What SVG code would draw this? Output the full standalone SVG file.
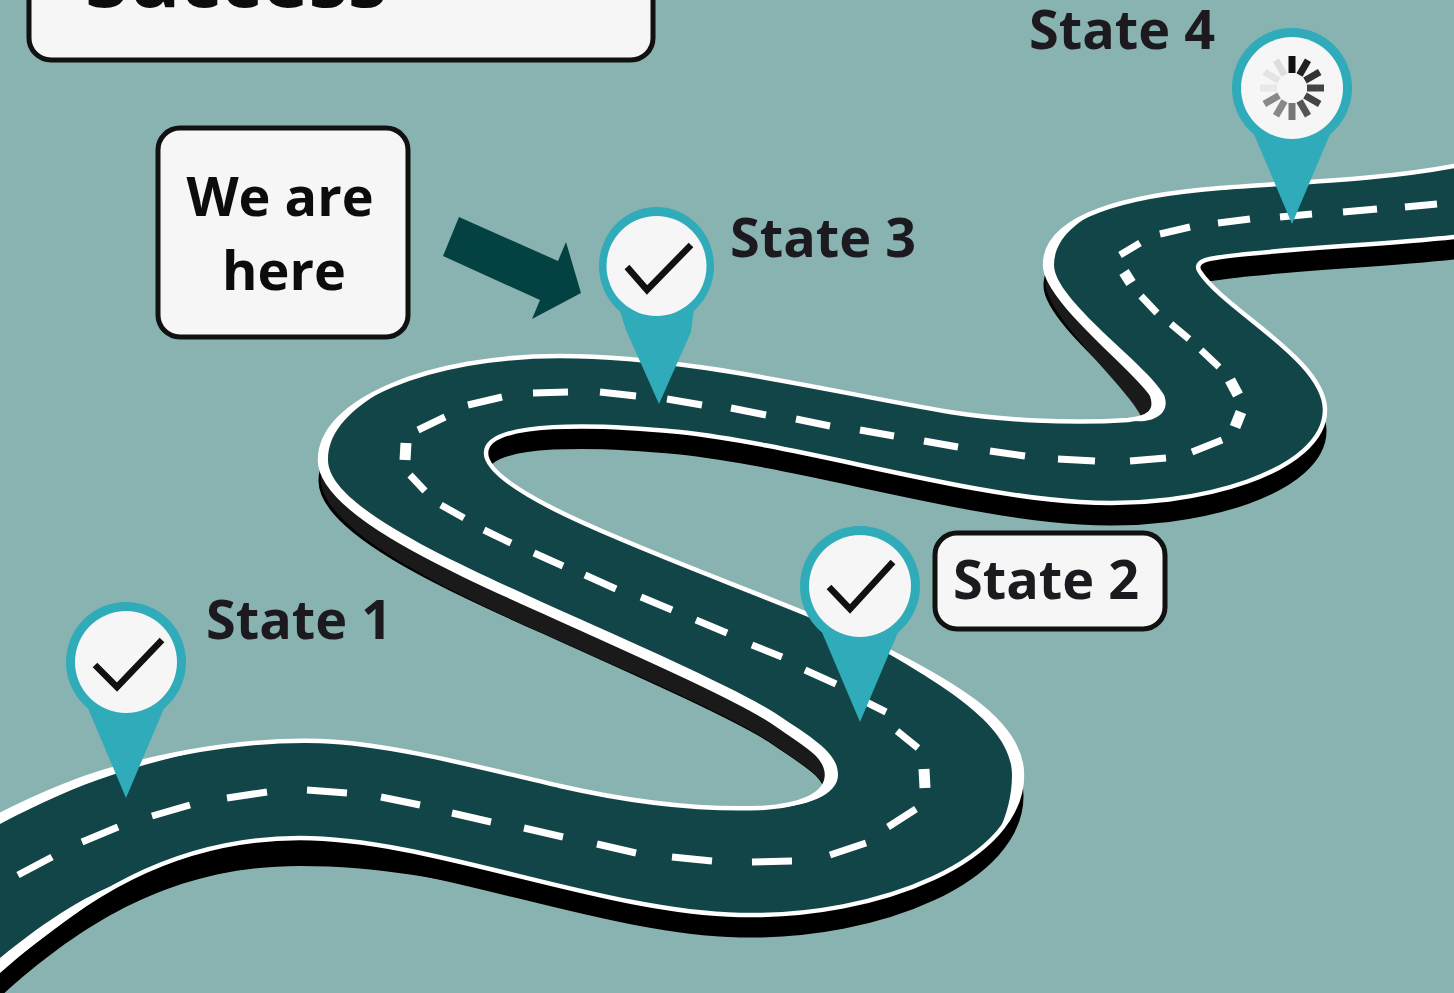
<svg xmlns="http://www.w3.org/2000/svg" width="1454" height="993" viewBox="0 0 1454 993">
<style>
.lbl{font-family:"Open Sans","Noto Sans","Liberation Sans",sans-serif;font-weight:700;font-size:54px;fill:#1c1a1f}
.box{fill:#f6f6f6;stroke:#111;stroke-width:5}
.pin{fill:#2fabb9}
.face{fill:#f6f6f6}
.chk{fill:none;stroke:#111;stroke-width:6.5}
.dash{fill:none;stroke:#fff;stroke-width:7}
.dash2{fill:none;stroke:#fff;stroke-width:11}
.sp{stroke-width:7;fill:none}
</style>
<defs>
<path id="road" d="M-8 819L0 815C40 795 75 780 110 770C175 752 250 739 320 741C390 743 490 770 560 786C630 802 700 810 760 808C800 806 827 795 827 775C827 755 806 745 770 720C730 695 640 655 540 610C440 565 320 510 320 460C320 400 430 356 560 356C690 356 830 392 950 412C1000 420 1070 424 1128 420C1148 418 1158 412 1152 395C1137 370 1045 300 1045 265C1045 215 1130 195 1220 188C1300 182 1380 180 1454 166L1462 165L1462 236L1454 237C1380 245 1260 250 1215 258C1200 260 1195 265 1200 272C1225 310 1325 360 1325 410C1325 470 1200 510 1080 502C960 495 800 445 680 432C600 424 486 420 486 453C486 500 720 575 850 632C950 680 1022 720 1022 775C1022 860 880 918 740 915C600 912 430 838 300 838C170 838 80 900 0 970L-8 977Z"/>
<g id="marker-body"><path class="pin" d="M-39 44L0 136L39 44Z"/><circle class="pin" r="60"/><circle class="face" r="51"/></g>
</defs>
<rect width="1454" height="993" fill="#89b3b0"/>
<g id="connectors">
<use href="#road" transform="translate(0 21)" fill="#000" stroke="#000" stroke-width="3"/>
<path fill="#000" d="M0 970C80 900 170 838 300 838C380 838 460 860 516 875L516 896C450 880 380 866 300 866C170 866 80 925 0 997Z"/>
<path fill="#1a1a1a" d="M827 775C827 755 806 745 770 720C730 695 640 655 540 610C440 565 320 510 320 460L321 482C325 530 440 587 540 632C640 677 730 715 770 742C806 767 827 777 827 797Z"/>
<path fill="#1a1a1a" d="M1152 395C1137 370 1045 300 1045 265L1046 287C1052 322 1130 390 1142 418L1160 410Z"/>
<use href="#road" fill="#124547" stroke="#fff" stroke-width="4.5" stroke-linejoin="round"/>
<path fill="#fff" d="M391 385.500C347.500 404 320 430 320 460C320 510 440 565 540 610C640 655 730 695 770 720C806 745 827 755 827 775C827 795 800 806 760 808C805 809 838 795 838 775C838 752 812 738 775 713C735 688 645 648 544 603C445 558 328 505 328 460C328 430 352 408 391 385.500Z"/>
<path fill="#fff" d="M1099 210.400C1066 222.500 1045 240 1045 265C1045 300 1137 370 1152 395C1158 412 1148 418 1128 420C1150 425 1172 415 1164 395C1148 365 1054 300 1054 265C1054 242 1072 224 1099 210.400Z"/>
<path fill="#fff" d="M850 632C950 680 1022 720 1022 775C1022 796 1013 816 998 833C1007 815 1012 795 1012 775C1012 725 945 685 850 632Z"/>
<path fill="#fff" d="M0 815C40 795 75 780 110 770C142.500 761 177.500 753 213 748C177 756 145 764 112 775C75 787 40 803 0 824Z"/>
<path fill="#fff" d="M131 878C90 900 55 930 0 970L0 958C50 917 90 893 131 878Z"/>
<path class="dash" d="M18 875L52 857M82 842L118 827M152 816L190 805M227 798L267 792M307 790L347 793M381 797L420 805M452 813L491 822M524 828L563 837M597 844L636 853M672 857L712 861M752 862L792 861M830 855L866 843M888 827L916 809M897 731L918 748M866 702L886 712M805 670L836 684M752 645L782 657M696 620L727 633M641 597L672 610M585 575L616 589M534 553L563 566M484 530L511 543M441 505L464 518M410 475L425 491M418 430L445 417M468 405L502 397M533 393L568 392M600 392L636 396M667 399L702 405M731 408L766 415M796 419L830 426M860 430L894 436M924 441L958 447M990 451L1025 456M1058 459L1095 461M1130 461L1166 458M1192 452L1222 440M1201 350L1219 367M1171 324L1189 339M1141 296L1157 313M1120 255L1140 243M1160 234L1190 227M1218 223L1250 219M1280 217L1312 214M1343 212L1377 209M1405 207L1437 204"/>
<path class="dash2" d="M925 788L924 769M405 460L406 443M1230 380L1238 395M1241 412L1235 427M1124 272L1131 283"/>
</g>
<g id="title-box"><rect class="box" x="29" y="-60" width="624" height="120" rx="22"/><text class="lbl" x="236" y="7" text-anchor="middle" style="font-size:79px;fill:#0c0c0c">Success</text></g>
<g id="here-box"><rect class="box" x="158" y="128" width="250" height="209" rx="22"/><text class="lbl" x="280" y="215.500" text-anchor="middle" style="fill:#0c0c0c">We are</text><text class="lbl" x="284" y="289.500" text-anchor="middle" style="fill:#0c0c0c">here</text></g>
<g id="here-arrow"><path fill="#034143" d="M459 217L443 256L540 300L532 319L581 293L566 242L558 261Z"/></g>
<g id="state-1"><use href="#marker-body" x="126" y="662"/><path class="chk" d="M95 665L117 687L162 640"/><text class="lbl" x="206" y="639">State 1</text></g>
<g id="state-2"><use href="#marker-body" x="860" y="586"/><path class="chk" d="M829 587L850 609L893 562"/><rect class="box" x="935" y="533" width="230" height="96" rx="22"/><text class="lbl" x="953" y="599">State 2</text></g>
<g id="state-3"><path class="pin" d="M619 308L626 330L659 404L691 332L694 308Z"/><ellipse class="pin" cx="656.500" cy="266" rx="57.500" ry="59"/><ellipse class="face" cx="656.500" cy="266" rx="50" ry="50"/><path class="chk" d="M627 267L647 290L691 245"/><text class="lbl" x="730" y="257">State 3</text></g>
<g id="state-4"><use href="#marker-body" x="1292" y="88"/>
<g class="sp" transform="translate(1292 88)">
<path stroke="#111" d="M0-15V-32"/>
<path stroke="#222" d="M7.500-13L16-27.700"/>
<path stroke="#333" d="M13-7.500L27.700-16"/>
<path stroke="#444" d="M15 0H32"/>
<path stroke="#444" d="M13 7.500L27.700 16"/>
<path stroke="#555" d="M7.500 13L16 27.700"/>
<path stroke="#777" d="M0 15V32"/>
<path stroke="#888" d="M-7.500 13L-16 27.700"/>
<path stroke="#888" d="M-13 7.500L-27.700 16"/>
<path stroke="#e8e8e8" d="M-15 0H-32"/>
<path stroke="#e4e4e4" d="M-13-7.500L-27.700-16"/>
<path stroke="#ddd" d="M-7.500-13L-16-27.700"/>
</g>
<text class="lbl" x="1029" y="49">State 4</text></g>
</svg>
